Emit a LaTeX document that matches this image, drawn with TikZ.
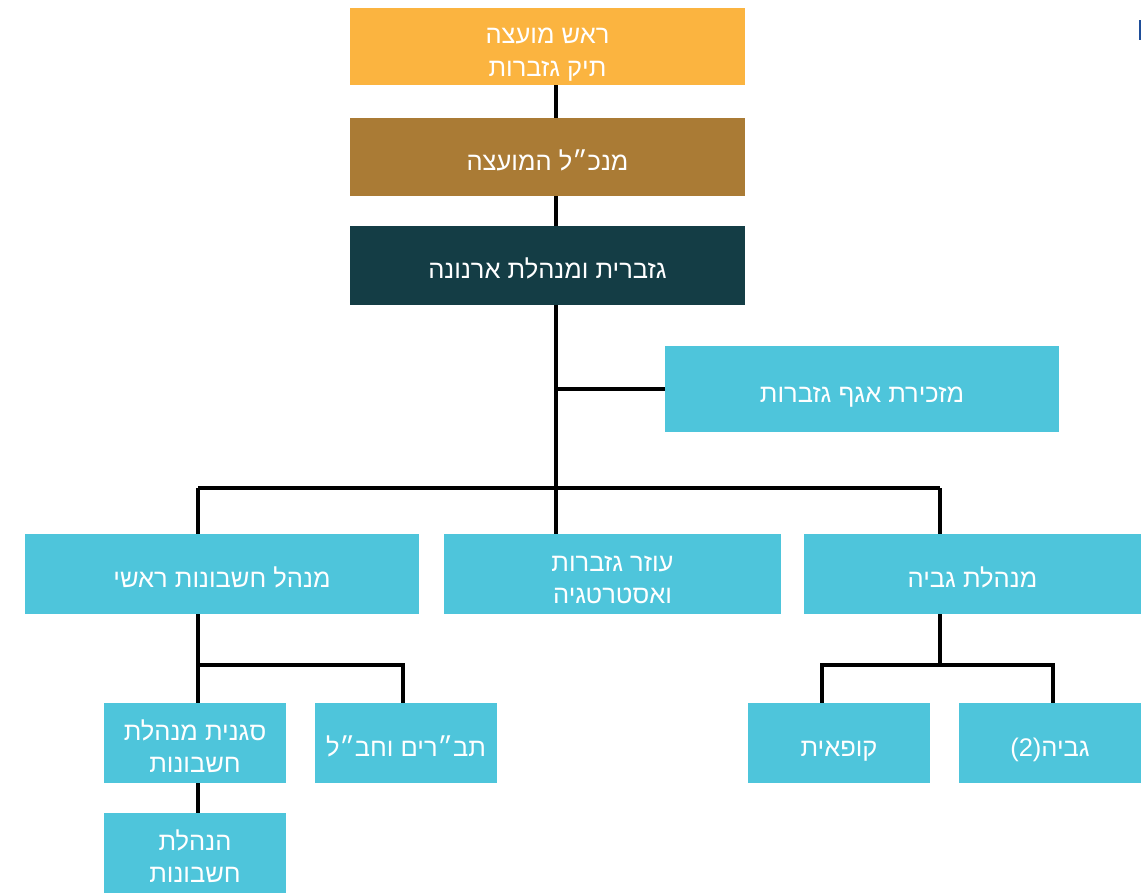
\documentclass[tikz,border=0pt]{standalone}
\usepackage{fontspec}
\usepackage{tikz}
\newfontfamily\hebfont[Script=Hebrew]{Liberation Sans}
\TeXXeTstate=1
\definecolor{gold}{RGB}{251, 180, 64}
\definecolor{bronze}{RGB}{170, 123, 53}
\definecolor{deepteal}{RGB}{20, 61, 69}
\definecolor{sky}{RGB}{78, 197, 219}
\definecolor{markblue}{RGB}{31, 78, 153}
\newcommand{\heb}[1]{\beginR #1\endR}
\newcommand{\hebrows}[1]{\raisebox{-7pt}[\height][\depth]{\begin{tabular}{@{}c@{}}#1\end{tabular}}}

\begin{document}
\begin{tikzpicture}[x=1pt, y=-1pt, thick,
    box/.style={fill=sky, text=white, inner sep=0pt,
                font=\hebfont\fontsize{25.5}{32.5}\selectfont},
    link/.style={line width=3.8pt, black}]

  \useasboundingbox (0, 0) rectangle (1141, 893);

  % top of the chain
  \node[box, fill=gold, minimum width=395, minimum height=77] (head) at (547.5, 46.5) { \hebrows{\heb{ראש מועצה}\\\heb{תיק גזברות}} };
  \node[box, fill=bronze, minimum width=395, minimum height=78] (ceo) at (547.5, 157) { \hebrows{\heb{מנכ״ל המועצה}} };
  \node[box, fill=deepteal, minimum width=395, minimum height=79] (treasurer) at (547.5, 265.5) { \hebrows{\heb{גזברית ומנהלת ארנונה}} };
  \node[box, minimum width=394, minimum height=86] (secretary) at (862, 389) { \hebrows{\heb{מזכירת אגף גזברות}} };

  % second row
  \node[box, minimum width=394, minimum height=80] (accounts) at (222, 574) { \hebrows{\heb{מנהל חשבונות ראשי}} };
  \node[box, minimum width=337, minimum height=80] (aide) at (612.5, 574) { \hebrows{\heb{עוזר גזברות}\\\heb{ואסטרטגיה}} };
  \node[box, minimum width=337, minimum height=80] (collection) at (972.5, 574) { \hebrows{\heb{מנהלת גביה}} };

  % third row
  \node[box, minimum width=182, minimum height=80] (deputy) at (195, 743) { \hebrows{\heb{סגנית מנהלת}\\\heb{חשבונות}} };
  \node[box, minimum width=182, minimum height=80] (projects) at (406, 743) { \hebrows{\heb{תב״רים וחב״ל}} };
  \node[box, minimum width=182, minimum height=80] (cashier) at (839, 743) { \hebrows{\heb{קופאית}} };
  \node[box, minimum width=182, minimum height=80] (collector) at (1050, 743) { \hebrows{\heb{גביה\beginL(2)\endL}} };
  \node[box, minimum width=182, minimum height=80] (bookkeeping) at (195, 853) { \hebrows{\heb{הנהלת}\\\heb{חשבונות}} };

  \fill[markblue] (1138.5, 20) rectangle (1141, 40);

  \coordinate (trunk) at (556, 0);
  \coordinate (busl) at (198, 488);
  \coordinate (busr) at (940, 488);
  \coordinate (accl) at (198, 665);
  \coordinate (accr) at (403, 665);
  \coordinate (coll) at (822, 665);
  \coordinate (colm) at (940, 665);
  \coordinate (colr) at (1053, 665);

  \draw[link] (head.south -| trunk) -- (ceo.north -| trunk);
  \draw[link] (ceo.south -| trunk) -- (treasurer.north -| trunk);
  \draw[link] (treasurer.south -| trunk) -- (busl -| trunk);
  \draw[link] (secretary.west) -- (secretary.west -| trunk);
  \draw[link] (busl) -- (busr);
  \draw[link] (busl) -- (busl |- accounts.north);
  \draw[link] (busl -| trunk) -- (aide.north -| trunk);
  \draw[link] (busr) -- (busr |- collection.north);

  \draw[link] (accounts.south -| accl) -- (accl) -- (accr) -- (accr |- projects.north);
  \draw[link] (accl) -- (accl |- deputy.north);
  \draw[link] (deputy.south -| accl) -- (bookkeeping.north -| accl);

  \draw[link] (collection.south -| colm) -- (colm);
  \draw[link] (coll |- cashier.north) -- (coll) -- (colr) -- (colr |- collector.north);

\end{tikzpicture}
\end{document}
